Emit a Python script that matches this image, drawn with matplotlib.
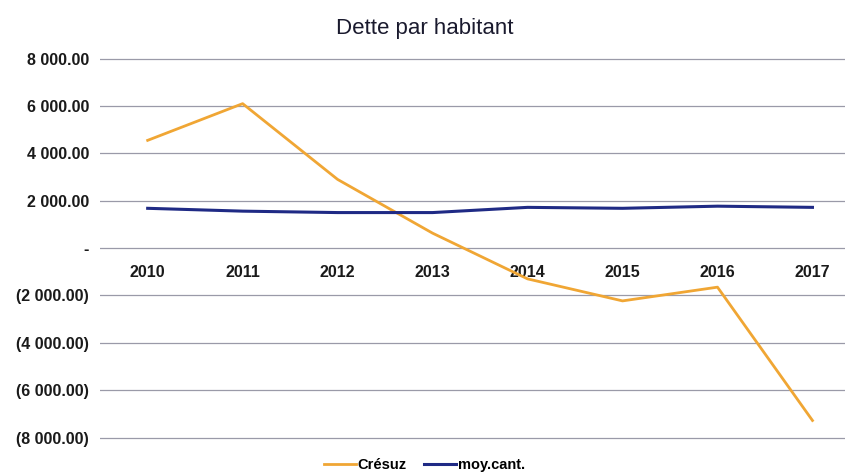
import matplotlib
matplotlib.use("Agg")
import matplotlib.pyplot as plt
from matplotlib.ticker import FuncFormatter

plt.rcParams['font.family'] = ['Liberation Sans', 'DejaVu Sans']

years = ['2010', '2011', '2012', '2013', '2014', '2015', '2016', '2017']
cresuz = [4550, 6100, 2900, 630, -1300, -2230, -1650, -7280]
moy_cant = [1680, 1560, 1500, 1500, 1720, 1680, 1770, 1720]
title = 'Dette par habitant'
series_names = ['Crésuz', 'moy.cant.']

fig = plt.figure(figsize=(8.49, 4.73), dpi=100)
ax = fig.add_axes([0.118, 0.070, 0.877, 0.811])

x = list(range(len(years)))
ax.plot(x, cresuz, color='#F0A634', lw=2, label=series_names[0])
ax.plot(x, moy_cant, color='#1F2A85', lw=2.2, label=series_names[1])

ax.set_ylim(-8100, 8100)
ax.set_xlim(-0.5, 7.34)
ax.set_yticks(range(-8000, 8001, 2000))
ax.yaxis.grid(True, color='#9a9aa8', lw=0.9)
ax.set_axisbelow(True)

def fmt(v, pos):
    if abs(v) < 1e-9:
        return '-'
    s = f"{abs(v):,.2f}".replace(',', ' ')
    return f"({s})" if v < 0 else s

ax.yaxis.set_major_formatter(FuncFormatter(fmt))
for sp in ['top', 'right', 'left']:
    ax.spines[sp].set_visible(False)
ax.spines['bottom'].set_position(('data', 0))
ax.spines['bottom'].set_visible(False)
ax.set_xticks(x)
ax.set_xticklabels(years)
ax.tick_params(axis='x', length=0, pad=12, labelsize=11.5)
ax.tick_params(axis='y', length=0, pad=8, labelsize=11.5)
for lbl in ax.get_xticklabels() + ax.get_yticklabels():
    lbl.set_fontweight('bold')
    lbl.set_color('#1a1a1a')

fig.text(0.5, 0.94, title, ha='center', va='center', fontsize=16, color='#1a1a2e')
fig.legend(loc='lower center', bbox_to_anchor=(0.5, -0.025), ncol=2, frameon=False,
           handlelength=2.2, handletextpad=0.1, columnspacing=1.2,
           prop={'weight': 'bold', 'size': 10.5})

fig.savefig('out.png', dpi=100, facecolor='white')
